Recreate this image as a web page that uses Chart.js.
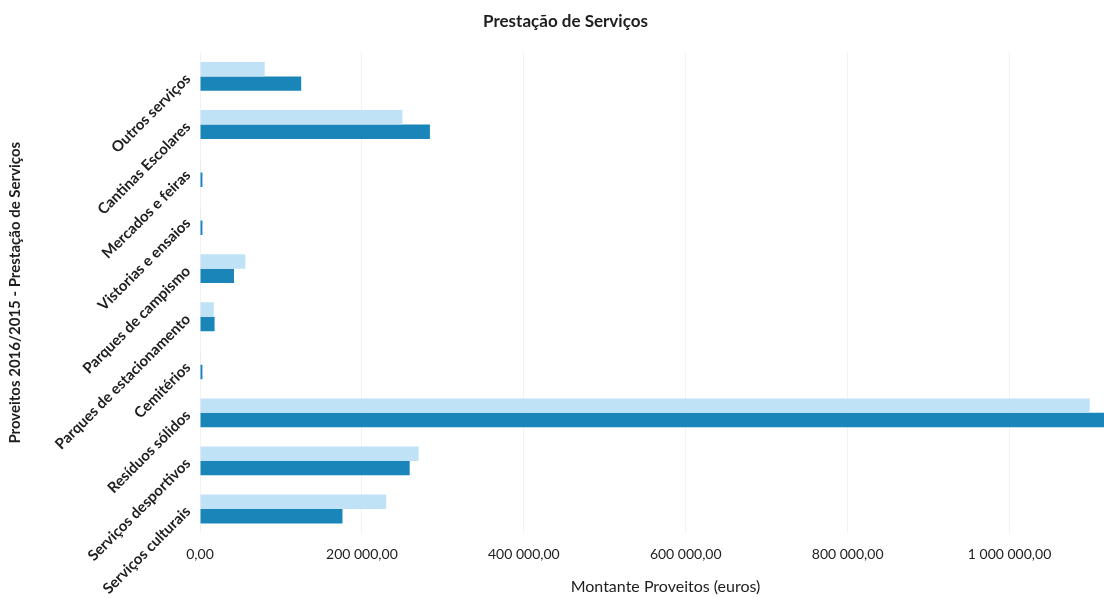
<!DOCTYPE html>
<html>
<head>
<meta charset="utf-8">
<script src="https://cdn.jsdelivr.net/npm/chart.js@4/dist/chart.umd.min.js"></script>
<style>
  html, body { margin: 0; padding: 0; background: #ffffff; overflow: hidden; }
  #wrap { position: relative; width: 1264px; height: 598px; }
</style>
</head>
<body>
<div id="wrap"><canvas id="c" width="1264" height="598"></canvas></div>
<script>
const categories = [
  'Outros serviços',
  'Cantinas Escolares',
  'Mercados e feiras',
  'Vistorias e ensaios',
  'Parques de campismo',
  'Parques de estacionamento',
  'Cemitérios',
  'Resíduos sólidos',
  'Serviços desportivos',
  'Serviços culturais'
];
const proveitos2015 = [80000, 250000, 1000, 1000, 56000, 17000, 1000, 1099000, 270000, 230000];
const proveitos2016 = [125000, 284000, 3000, 3000, 42000, 18000, 3000, 1160000, 259000, 176000];
const xTickValues = [0, 200000, 400000, 600000, 800000, 1000000];

const fontFamily = "Lato, 'Open Sans', 'DejaVu Sans', sans-serif";

function fmt(v) {
  const s = Math.round(v).toString().replace(/\B(?=(\d{3})+(?!\d))/g, ' ');
  return s + ',00';
}

new Chart(document.getElementById('c'), {
  type: 'bar',
  data: {
    labels: categories,
    datasets: [
      { label: '2015', data: proveitos2015, backgroundColor: '#bfe2f7', borderWidth: 0 },
      { label: '2016', data: proveitos2016, backgroundColor: '#1a85b8', borderWidth: 0 }
    ]
  },
  options: {
    indexAxis: 'y',
    responsive: false,
    animation: false,
    devicePixelRatio: 1,
    layout: { padding: { left: 0, right: 133, top: 0, bottom: 2 } },
    datasets: { bar: { categoryPercentage: 0.6, barPercentage: 1.0 } },
    plugins: {
      legend: { display: false },
      tooltip: { enabled: false },
      title: {
        display: true,
        text: 'Prestação de Serviços',
        color: '#1e1e1e',
        font: { family: fontFamily, size: 17, weight: 'bold' },
        padding: { top: 11, bottom: 21 }
      }
    },
    scales: {
      x: {
        min: 0,
        max: 1150000,
        afterBuildTicks: (scale) => { scale.ticks = xTickValues.map(v => ({ value: v })); },
        afterFit: (scale) => { scale.height = 63; },
        grid: { color: '#f2f2f2', drawTicks: false },
        border: { display: false },
        ticks: {
          padding: 13,
          color: '#1e1e1e',
          font: { family: fontFamily, size: 14 },
          callback: (v) => fmt(v)
        },
        title: {
          display: true,
          text: 'Montante Proveitos (euros)',
          color: '#1e1e1e',
          font: { family: fontFamily, size: 16 },
          padding: { top: 0, bottom: 0 }
        }
      },
      y: {
        afterFit: (scale) => { scale.width = 200; },
        grid: { display: false, drawTicks: false },
        border: { display: false },
        ticks: {
          minRotation: 45,
          maxRotation: 45,
          padding: 12,
          color: '#1e1e1e',
          font: { family: fontFamily, size: 15, weight: 'bold' }
        },
        title: {
          display: true,
          text: 'Proveitos 2016/2015 - Prestação de Serviços',
          color: '#1e1e1e',
          font: { family: fontFamily, size: 15, weight: 'bold' },
          padding: { top: 6, bottom: 0 }
        }
      }
    }
  }
});
</script>
</body>
</html>
